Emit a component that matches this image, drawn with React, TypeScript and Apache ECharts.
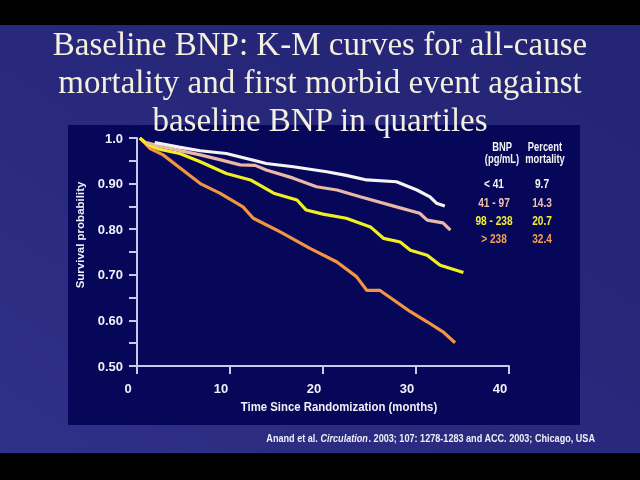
import React, { useEffect, useRef } from "react";
import * as echarts from "echarts";

const monthsWhite = [1.9, 2.5, 4.5, 6.8, 9.6, 13.9, 16.8, 20.4, 22.5, 24.7, 27.9, 30.1, 31.5, 32.2, 33.1];
const survWhite = [0.99, 0.988, 0.98, 0.972, 0.966, 0.944, 0.937, 0.926, 0.918, 0.908, 0.904, 0.886, 0.871, 0.857, 0.851];

const monthsPink = [1.0, 2.5, 4.5, 6.8, 9.0, 11.1, 12.7, 13.9, 16.8, 19.3, 21.5, 24.0, 27.9, 30.4, 31.2, 32.9, 33.7];
const survPink = [0.99, 0.982, 0.973, 0.963, 0.952, 0.941, 0.94, 0.93, 0.912, 0.893, 0.886, 0.871, 0.849, 0.835, 0.82, 0.814, 0.798];

const monthsYellow = [0.3, 1.2, 2.5, 4.6, 6.8, 9.6, 12.2, 14.7, 17.2, 18.2, 20.0, 22.5, 25.1, 26.5, 28.3, 29.4, 31.2, 32.6, 35.1];
const survYellow = [1.0, 0.985, 0.975, 0.966, 0.948, 0.922, 0.908, 0.879, 0.864, 0.842, 0.833, 0.824, 0.805, 0.78, 0.772, 0.754, 0.743, 0.721, 0.705];

const monthsOrange = [0.3, 1.4, 2.8, 5.4, 6.8, 8.9, 11.4, 12.5, 15.4, 18.6, 21.5, 23.6, 24.7, 26.1, 29.4, 31.2, 32.9, 34.2];
const survOrange = [1.0, 0.977, 0.963, 0.922, 0.9, 0.879, 0.849, 0.824, 0.794, 0.758, 0.728, 0.696, 0.666, 0.666, 0.619, 0.597, 0.575, 0.551];

const bnpLabels = ["< 41", "41 - 97", "98 - 238", "> 238"];
const mortality = ["9.7", "14.3", "20.7", "32.4"];
const curveColors = ["#f4f4f4", "#eab8a6", "#f0f020", "#f29440"];
const labelColors = ["#f4f4f4", "#f0c0b0", "#f0f030", "#f4a050"];

const xTicks = [0, 10, 20, 30, 40];

const titleLines = [
  "Baseline BNP: K-M curves for all-cause",
  "mortality and first morbid event against",
  "baseline BNP in quartiles",
];

const pair = (xs: number[], ys: number[]) => xs.map((x, i) => [x, ys[i]]);

export default function App() {
  const ref = useRef<HTMLDivElement>(null);
  useEffect(() => {
    if (!ref.current) return;
    const chart = echarts.init(ref.current, null, { renderer: "svg" });
    const sans = "'Liberation Sans', Arial, sans-serif";
    const narrowText = (x: number, y: number, text: string, fill: string, size = 13) => ({
      type: "text", x, y, scaleX: 0.78,
      style: { text, fill, font: `bold ${size}px ${sans}`, align: "center", verticalAlign: "middle" },
    });
    const graphics: any[] = [
      { type: "rect", z: -10, shape: { x: 0, y: 0, width: 640, height: 480 }, style: { fill: "#000" } },
      {
        type: "rect", z: -9, shape: { x: 0, y: 25, width: 640, height: 428 },
        style: {
          fill: new echarts.graphic.LinearGradient(0, 1, 1, 0, [
            { offset: 0, color: "#2f3088" },
            { offset: 0.5, color: "#28287c" },
            { offset: 1, color: "#242474" },
          ]),
        },
      },
      { type: "rect", z: -8, shape: { x: 68, y: 125, width: 512, height: 300 }, style: { fill: "#07075a" } },
      { type: "line", z: 5, shape: { x1: 137, y1: 138, x2: 137, y2: 373 }, style: { stroke: "#c8c8ea", lineWidth: 2 } },
      {
        type: "text", x: 80, y: 235, rotation: Math.PI / 2,
        style: { text: "Survival probability", fill: "#f0f0f8", font: `bold 11.5px ${sans}`, align: "center", verticalAlign: "middle" },
      },
      {
        type: "text", x: 339, y: 406, scaleX: 0.95,
        style: { text: "Time Since Randomization (months)", fill: "#f0f0f8", font: `bold 12px ${sans}`, align: "center", verticalAlign: "middle" },
      },
      {
        type: "text", x: 595, y: 438, scaleX: 0.91,
        style: {
          text: "{n|Anand et al. }{i|Circulation}{n|. 2003; 107: 1278-1283 and ACC. 2003; Chicago, USA}",
          align: "right", verticalAlign: "middle",
          rich: {
            n: { fill: "#f0f0f8", font: `bold 10px ${sans}` },
            i: { fill: "#f0f0f8", font: `italic bold 10px ${sans}` },
          },
        },
      },
      narrowText(502, 147, "BNP", "#f4f4f4", 12),
      narrowText(502, 159, "(pg/mL)", "#f4f4f4", 12),
      narrowText(545, 147, "Percent", "#f4f4f4", 12),
      narrowText(545, 159, "mortality", "#f4f4f4", 12),
    ];
    titleLines.forEach((t, i) => {
      graphics.push({
        type: "text", x: 320, y: 44 + i * 38,
        style: { text: t, fill: "#f4f0e0", font: `33px 'Liberation Serif', 'Times New Roman', serif`, align: "center", verticalAlign: "middle" },
      });
    });
    const rowY = [183, 202, 220, 238];
    bnpLabels.forEach((t, i) => {
      graphics.push(narrowText(494, rowY[i], t, labelColors[i]));
      graphics.push(narrowText(542, rowY[i], mortality[i], labelColors[i]));
    });

    const axisLine = { show: true, lineStyle: { color: "#c8c8ea", width: 2 } };
    const mk = (name: string, xs: number[], ys: number[], color: string) => ({
      name, type: "line", data: pair(xs, ys), showSymbol: false, symbol: "none",
      lineStyle: { color, width: 3.2 }, itemStyle: { color }, z: 3,
    });

    chart.setOption({
      animation: false,
      backgroundColor: "transparent",
      grid: { left: 137, right: 131, top: 138, bottom: 114 },
      xAxis: {
        type: "value", min: 0, max: 40, interval: 10,
        axisLine, axisTick: { show: true, length: 8, lineStyle: { color: "#c8c8ea", width: 2 } },
        splitLine: { show: false },
        axisLabel: {
          color: "#f0f0f8", fontSize: 13, fontWeight: "bold", fontFamily: sans, margin: 16,
          padding: [0, 18, 0, 0],
          formatter: (v: number) => (xTicks.includes(v) ? String(v) : ""),
        },
      },
      yAxis: {
        type: "value", min: 0.5, max: 1.0, interval: 0.1,
        axisLine, axisTick: { show: true, length: 8, lineStyle: { color: "#c8c8ea", width: 2 } },
        minorTick: { show: true, splitNumber: 2, length: 8, lineStyle: { color: "#c8c8ea", width: 2 } },
        splitLine: { show: false },
        axisLabel: {
          color: "#f0f0f8", fontSize: 13, fontWeight: "bold", fontFamily: sans, margin: 14,
          formatter: (v: number) => (Math.abs(v - 1) < 1e-9 ? "1.0" : v.toFixed(2)),
        },
      },
      graphic: graphics,
      series: [
        mk("> 238", monthsOrange, survOrange, curveColors[3]),
        mk("98 - 238", monthsYellow, survYellow, curveColors[2]),
        mk("41 - 97", monthsPink, survPink, curveColors[1]),
        mk("< 41", monthsWhite, survWhite, curveColors[0]),
      ],
    });
    return () => chart.dispose();
  }, []);
  return <div ref={ref} style={{ position: "fixed", left: 0, top: 0, width: 640, height: 480 }} />;
}
